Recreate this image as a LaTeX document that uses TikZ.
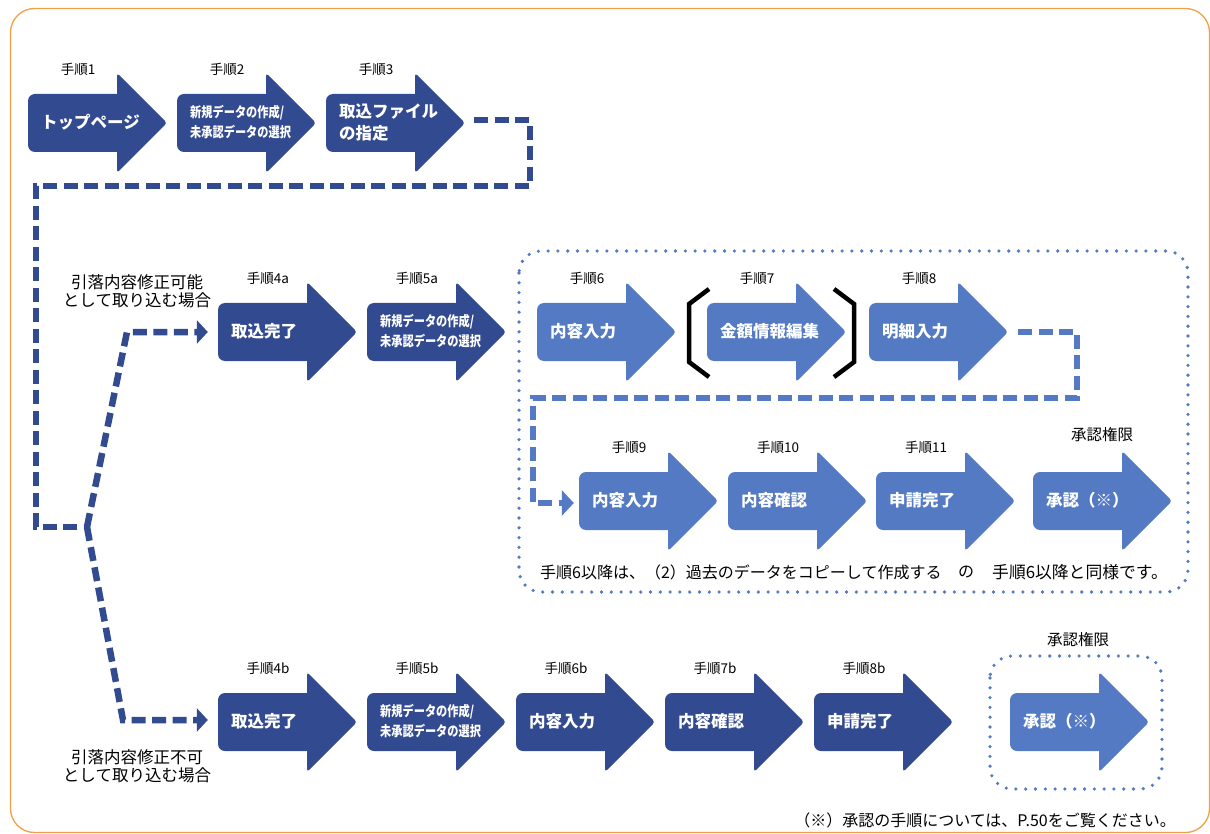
\documentclass[tikz,border=0pt]{standalone}
\usepackage{fontspec}
\setmainfont{Noto Sans CJK JP}
\newfontfamily\jpcond{Noto Sans CJK JP}[FakeStretch=0.8]
\usetikzlibrary{arrows.meta,calc}
\definecolor{dkblue}{RGB}{50,74,143}
\definecolor{ltblue}{RGB}{83,122,194}
\definecolor{frameorange}{RGB}{240,160,72}
\tikzset{
  stepbox/.style={minimum width=139pt, minimum height=100pt, inner sep=0pt},
  steplabel/.style={font=\fontsize{13.5}{15}\selectfont, inner sep=0pt},
  intext/.style={font=\bfseries\fontsize{16.5}{22}\selectfont, text=white, anchor=west, inner sep=0pt, align=left},
  condtext/.style={font=\jpcond\bfseries\fontsize{14}{20}\selectfont, text=white, anchor=west, inner sep=0pt, align=left},
  darkdash/.style={draw=dkblue, line width=6.5pt, dash pattern=on 14pt off 6.5pt},
  lightdash/.style={draw=ltblue, line width=6pt, dash pattern=on 14pt off 6.5pt},
  dotbox/.style={draw=ltblue, line width=3.6pt, line cap=round, dash pattern=on 0pt off 9.8pt, rounded corners=22pt},
  bracketline/.style={draw=black, line width=4.5pt},
  plain/.style={font=\fontsize{16.5}{17.5}\selectfont, inner sep=0pt, align=center},
  note/.style={font=\fontsize{16}{18}\selectfont, inner sep=0pt},
}
\newcommand\steparrow[7]{%
  \fill[#4,rounded corners=7pt] (#2,#3-29) rectangle (#2+95,#3+29);
  \fill[#4,rounded corners=3pt] (#2+89,#3-50) -- (#2+139,#3) -- (#2+89,#3+50) -- cycle;
  \node[stepbox] (#1) at (#2+69.5,#3) {};
  \node[#6] (#1-text) at (#2+13,#3-1) {#7};
  \node[steplabel] (#1-label) at (#2+50,#3-54) {#5};
}
\begin{document}
\begin{tikzpicture}[x=1pt,y=-1pt]
\useasboundingbox (0,0) rectangle (1210,834);
\draw[frameorange, line width=1.3pt, rounded corners=24pt] (10.5,8.5) rectangle (1209.5,832.5);

% row 1
\steparrow{s1}{28}{123}{dkblue}{手順1}{intext}{トップページ}
\steparrow{s2}{177}{123}{dkblue}{手順2}{condtext}{新規データの作成/\\未承認データの選択}
\steparrow{s3}{326}{123}{dkblue}{手順3}{intext}{取込ファイル\\の指定}

% row 2
\steparrow{s4a}{218}{332}{dkblue}{手順4a}{intext}{取込完了}
\steparrow{s5a}{367}{332}{dkblue}{手順5a}{condtext}{新規データの作成/\\未承認データの選択}
\steparrow{s6}{537}{332}{ltblue}{手順6}{intext}{内容入力}
\steparrow{s7}{707}{332}{ltblue}{手順7}{intext}{金額情報編集}
\steparrow{s8}{869}{332}{ltblue}{手順8}{intext}{明細入力}

% row 3
\steparrow{s9}{579}{501}{ltblue}{手順9}{intext}{内容入力}
\steparrow{s10}{728}{501}{ltblue}{手順10}{intext}{内容確認}
\steparrow{s11}{876}{501}{ltblue}{手順11}{intext}{申請完了}
\steparrow{sA}{1033}{501}{ltblue}{}{intext}{承認（※）}
\node[note, font=\fontsize{15.5}{17}\selectfont] (authA) at (1102,435) {承認権限};

% row 4
\steparrow{s4b}{218}{722}{dkblue}{手順4b}{intext}{取込完了}
\steparrow{s5b}{367}{722}{dkblue}{手順5b}{condtext}{新規データの作成/\\未承認データの選択}
\steparrow{s6b}{516}{722}{dkblue}{手順6b}{intext}{内容入力}
\steparrow{s7b}{665}{722}{dkblue}{手順7b}{intext}{内容確認}
\steparrow{s8b}{814}{722}{dkblue}{手順8b}{intext}{申請完了}
\steparrow{sB}{1010}{722}{ltblue}{}{intext}{承認（※）}
\node[note, font=\fontsize{15.5}{17}\selectfont] (authB) at (1078,640) {承認権限};

% brackets around step 7
\draw[bracketline] (709,289) -- (689,304) -- (689,362) -- (709,377);
\draw[bracketline] (834,289) -- (854,304) -- (854,362) -- (834,377);

% dotted groups
\draw[dotbox] (519,251) rectangle (1188,592);
\draw[dotbox] (990,656) rectangle (1162,789);

% dark dashed connectors
\coordinate (d0) at ($(s3.east)+(9,-3)$);
\coordinate (junc) at (87,527);
\draw[darkdash] (d0) -- (530,120) -- (530,186) -- (36,186) -- (36,527) -- (junc);
\draw[darkdash, -{Triangle[length=11pt,width=23pt]}] (junc) -- (127,332) -- ($(s4a.west)+(-10,0)$);
\draw[darkdash, -{Triangle[length=11pt,width=23pt]}] (junc) -- (123,720) -- ($(s4b.west)+(-10,-2)$);

% light dashed connector
\draw[lightdash, -{Triangle[length=12pt,width=25pt]}] ($(s8.east)+(10,0)$) -- (1077,332) -- (1077,398) -- (533,398) -- (533,503) -- ($(s9.west)+(-5,2)$);

% texts
\node[plain] (condA) at (137,291.5) {引落内容修正可能\\として取り込む場合};
\node[plain] (condB) at (137,766) {引落内容修正不可\\として取り込む場合};
\node[note, anchor=west] (noteA) at (540,572) {手順6以降は、（2）過去のデータをコピーして作成する};
\node[note] (noteB) at (966,572) {の};
\node[note, anchor=west, font=\fontsize{16.8}{18}\selectfont] (noteC) at (992,572) {手順6以降と同様です。};
\node[note, anchor=east] (foot) at (1176,820) {（※）承認の手順については、P.50をご覧ください。};
\end{tikzpicture}
\end{document}
